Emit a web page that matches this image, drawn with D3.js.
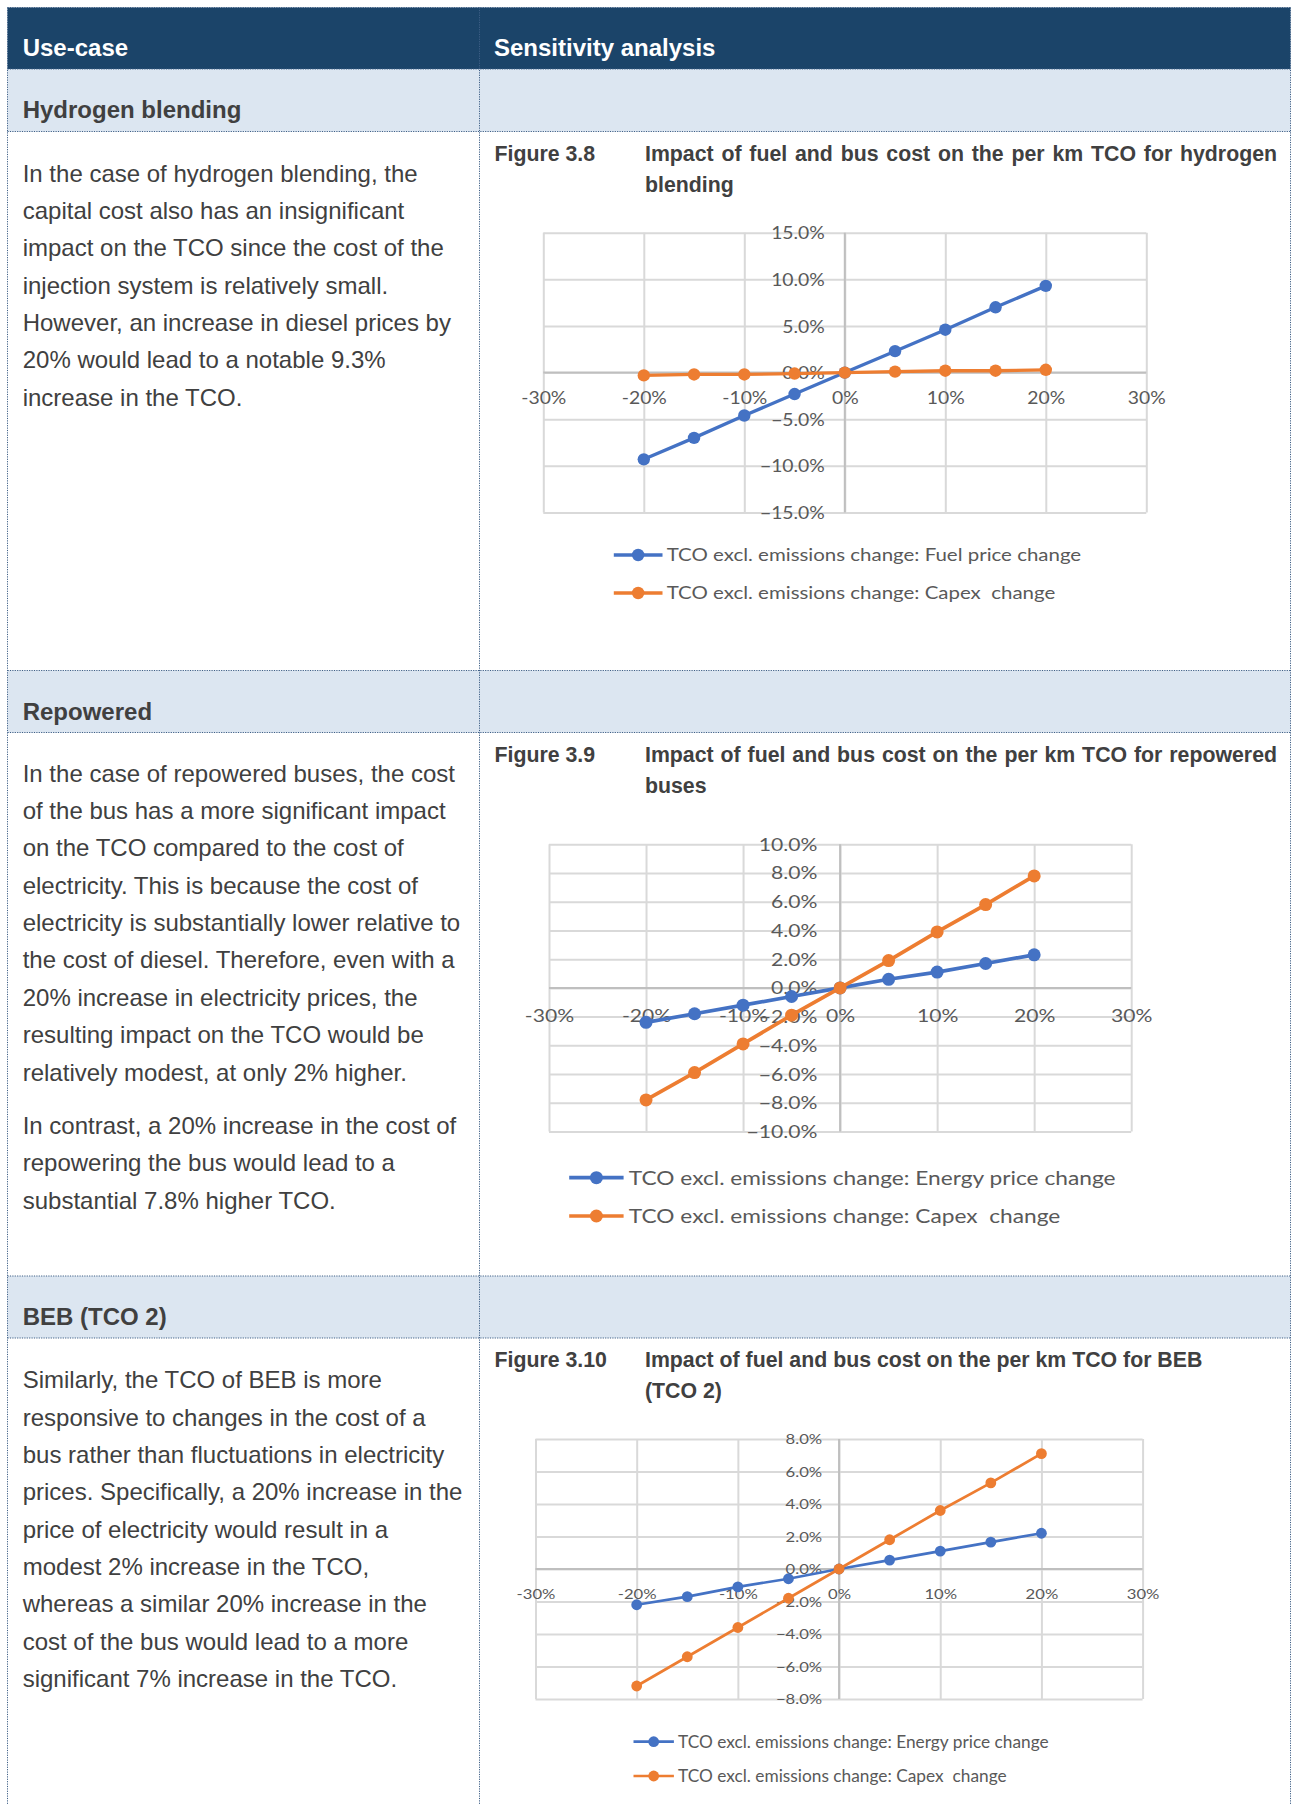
<!DOCTYPE html>
<html>
<head>
<meta charset="utf-8">
<script src="https://cdn.jsdelivr.net/npm/d3@7"></script>
<style>
  html, body { margin: 0; padding: 0; background: #ffffff; }
  svg { display: block; }
</style>
</head>
<body>
<svg id="page" width="1293" height="1805"></svg>
<script>
// ---- Data -------------------------------------------------------------
// Change applied to the input (fuel / energy price or capex), in %
const inputSteps = [-20, -15, -10, -5, 0, 5, 10, 15, 20];
const xTickValues = [-30, -20, -10, 0, 10, 20, 30];

// Hydrogen blending: change in TCO excl. emissions (%)
const h2FuelChange  = [-9.3, -7.0, -4.6, -2.3, 0, 2.3, 4.6, 7.0, 9.3];
const h2CapexChange = [-0.3, -0.2, -0.2, -0.1, 0, 0.1, 0.2, 0.2, 0.3];
const h2YTicks = [-15, -10, -5, 0, 5, 10, 15];

// Repowered buses
const repEnergyChange = [-2.4, -1.8, -1.2, -0.6, 0, 0.6, 1.1, 1.7, 2.3];
const repCapexChange  = [-7.8, -5.9, -3.9, -1.9, 0, 1.9, 3.9, 5.8, 7.8];
const repYTicks = [-10, -8, -6, -4, -2, 0, 2, 4, 6, 8, 10];

// BEB (TCO 2)
const bebEnergyChange = [-2.2, -1.7, -1.1, -0.6, 0, 0.55, 1.1, 1.65, 2.2];
const bebCapexChange  = [-7.2, -5.4, -3.6, -1.8, 0, 1.8, 3.6, 5.3, 7.1];
const bebYTicks = [-8, -6, -4, -2, 0, 2, 4, 6, 8];

// Series labels
const h2SeriesNames  = ["TCO excl. emissions change: Fuel price change", "TCO excl. emissions change: Capex  change"];
const repSeriesNames = ["TCO excl. emissions change: Energy price change", "TCO excl. emissions change: Capex  change"];
const bebSeriesNames = ["TCO excl. emissions change: Energy price change", "TCO excl. emissions change: Capex  change"];

// Table text
const columnHeaders = ["Use-case", "Sensitivity analysis"];
const useCases = ["Hydrogen blending", "Repowered", "BEB (TCO 2)"];
const figureNumbers = ["Figure 3.8", "Figure 3.9", "Figure 3.10"];
const figureTitles = [
  ["Impact of fuel and bus cost on the per km TCO for hydrogen", "blending"],
  ["Impact of fuel and bus cost on the per km TCO for repowered", "buses"],
  ["Impact of fuel and bus cost on the per km TCO for BEB", "(TCO 2)"]
];
const h2Text = [[
  "In the case of hydrogen blending, the",
  "capital cost also has an insignificant",
  "impact on the TCO since the cost of the",
  "injection system is relatively small.",
  "However, an increase in diesel prices by",
  "20% would lead to a notable 9.3%",
  "increase in the TCO."
]];
const repText = [[
  "In the case of repowered buses, the cost",
  "of the bus has a more significant impact",
  "on the TCO compared to the cost of",
  "electricity. This is because the cost of",
  "electricity is substantially lower relative to",
  "the cost of diesel. Therefore, even with a",
  "20% increase in electricity prices, the",
  "resulting impact on the TCO would be",
  "relatively modest, at only 2% higher."
], [
  "In contrast, a 20% increase in the cost of",
  "repowering the bus would lead to a",
  "substantial 7.8% higher TCO."
]];
const bebText = [[
  "Similarly, the TCO of BEB is more",
  "responsive to changes in the cost of a",
  "bus rather than fluctuations in electricity",
  "prices. Specifically, a 20% increase in the",
  "price of electricity would result in a",
  "modest 2% increase in the TCO,",
  "whereas a similar 20% increase in the",
  "cost of the bus would lead to a more",
  "significant 7% increase in the TCO."
]];

// ---- Styling ------------------------------------------------------------
const HEADER_FILL = "#1b4469";
const BAND_FILL = "#dce6f1";
const BORDER = "#3e5f86";
const BODY_TEXT = "#404040";
const CHART_TEXT = "#595959";
const BLUE = "#4472c4";
const ORANGE = "#ed7d31";
const SANS = "'Liberation Sans', Arial, Helvetica, sans-serif";
const CHART_FONT = "Lato, 'Open Sans', sans-serif";

const svg = d3.select("#page");

// ---- Table frame --------------------------------------------------------
const tableLeft = 7.5, tableRight = 1290.5, colSplit = 479.5, tableTop = 7.5, pageBottom = 1805;
const headerBottom = 69;
const bands = [
  { top: 69, bottom: 131.5 },
  { top: 670.5, bottom: 732.5 },
  { top: 1276, bottom: 1338 }
];

svg.append("rect").attr("x", tableLeft).attr("y", tableTop)
  .attr("width", tableRight - tableLeft).attr("height", headerBottom - tableTop)
  .attr("fill", HEADER_FILL);

bands.forEach(b => {
  svg.append("rect").attr("x", tableLeft).attr("y", b.top)
    .attr("width", tableRight - tableLeft).attr("height", b.bottom - b.top)
    .attr("fill", BAND_FILL);
});

const borders = svg.append("g")
  .attr("stroke", BORDER).attr("stroke-width", 1).attr("stroke-dasharray", "1.2 1.2")
  .attr("fill", "none");
[tableTop, headerBottom, ...bands.flatMap(b => [b.top, b.bottom])]
  .filter((v, i, a) => a.indexOf(v) === i)
  .forEach(y => borders.append("line").attr("x1", tableLeft).attr("x2", tableRight).attr("y1", y).attr("y2", y));
[tableLeft, colSplit, tableRight].forEach(x =>
  borders.append("line").attr("x1", x).attr("x2", x).attr("y1", tableTop).attr("y2", pageBottom));

// Column headers
const textLeft = 22.7, rightColText = 494;
svg.append("text").attr("x", textLeft).attr("y", 56)
  .attr("font-family", SANS).attr("font-weight", "bold").attr("font-size", 24)
  .attr("fill", "#ffffff").text(columnHeaders[0]);
svg.append("text").attr("x", rightColText).attr("y", 56)
  .attr("font-family", SANS).attr("font-weight", "bold").attr("font-size", 24)
  .attr("fill", "#ffffff").text(columnHeaders[1]);

// Use-case band labels
bands.forEach((b, i) => {
  svg.append("text").attr("x", textLeft).attr("y", b.top + 49)
    .attr("font-family", SANS).attr("font-weight", "bold").attr("font-size", 24)
    .attr("fill", BODY_TEXT).text(useCases[i]);
});

// Body paragraphs
const LINE_H = 37.35, PARA_GAP = 16.2;
function drawParagraphs(paragraphs, firstBaseline) {
  let y = firstBaseline;
  paragraphs.forEach((lines, pi) => {
    if (pi > 0) y += PARA_GAP;
    lines.forEach(line => {
      svg.append("text").attr("x", textLeft).attr("y", y)
        .attr("font-family", SANS).attr("font-size", 24).attr("fill", BODY_TEXT)
        .text(line);
      y += LINE_H;
    });
  });
}
drawParagraphs(h2Text, bands[0].bottom + 50.2);
drawParagraphs(repText, bands[1].bottom + 49.2);
drawParagraphs(bebText, bands[2].bottom + 50.3);

// Figure captions
const captionNumX = 494.5, captionTextX = 645, captionRight = 1277;
function drawCaption(i, baseline, justify) {
  svg.append("text").attr("x", captionNumX).attr("y", baseline)
    .attr("font-family", SANS).attr("font-weight", "bold").attr("font-size", 21.3)
    .attr("fill", BODY_TEXT).text(figureNumbers[i]);
  const first = svg.append("text").attr("x", captionTextX).attr("y", baseline)
    .attr("font-family", SANS).attr("font-weight", "bold").attr("font-size", 21.3)
    .attr("fill", BODY_TEXT).text(figureTitles[i][0]);
  if (justify) {
    const natural = first.node().getComputedTextLength();
    const gaps = figureTitles[i][0].split(" ").length - 1;
    const extra = (captionRight - captionTextX) - natural;
    if (extra > 0) first.style("word-spacing", (extra / gaps) + "px");
  }
  svg.append("text").attr("x", captionTextX).attr("y", baseline + 31)
    .attr("font-family", SANS).attr("font-weight", "bold").attr("font-size", 21.3)
    .attr("fill", BODY_TEXT).text(figureTitles[i][1]);
}
drawCaption(0, bands[0].bottom + 29.3, true);
drawCaption(1, bands[1].bottom + 29.8, true);
drawCaption(2, bands[2].bottom + 28.7, false);

// ---- Charts -------------------------------------------------------------
// Horizontal stretch so chart text fills the same width it occupies in the
// stretched chart graphic.
function stretchFor(sample, size, target) {
  const t = svg.append("text").attr("font-family", CHART_FONT).attr("font-size", size).text(sample);
  const w = t.node().getComputedTextLength();
  t.remove();
  return target / w;
}

function drawChart(cfg, series, names) {
  const g = svg.append("g");
  const x = d3.scaleLinear().domain([-30, 30]).range([cfg.left, cfg.right]);
  const y = d3.scaleLinear().domain([cfg.yTicks[0], cfg.yTicks[cfg.yTicks.length - 1]]).range([cfg.bottom, cfg.top]);
  const tickSx = stretchFor("-30%", cfg.tickFont, cfg.tickTarget);

  // Gridlines
  const gridY = g.append("g").attr("transform", `translate(${cfg.left},0)`)
    .call(d3.axisLeft(y).tickValues(cfg.yTicks).tickSize(-(cfg.right - cfg.left)).tickFormat(""));
  const gridX = g.append("g").attr("transform", `translate(0,${cfg.bottom})`)
    .call(d3.axisBottom(x).tickValues(xTickValues).tickSize(-(cfg.bottom - cfg.top)).tickFormat(""));
  [gridY, gridX].forEach(a => {
    a.select(".domain").remove();
    a.selectAll("line").attr("stroke", "#d9d9d9").attr("stroke-width", 2);
  });

  // Axes crossing at zero
  g.append("line").attr("x1", cfg.left).attr("x2", cfg.right)
    .attr("y1", y(0)).attr("y2", y(0)).attr("stroke", "#bfbfbf").attr("stroke-width", 2);
  g.append("line").attr("x1", x(0)).attr("x2", x(0))
    .attr("y1", cfg.top).attr("y2", cfg.bottom).attr("stroke", "#bfbfbf").attr("stroke-width", 2);

  // X tick labels along the zero line
  const xAxis = g.append("g").attr("transform", `translate(0,${y(0)})`)
    .call(d3.axisBottom(x).tickValues(xTickValues).tickSize(0).tickFormat(d => d + "%"));
  xAxis.select(".domain").remove();
  xAxis.selectAll("text")
    .attr("y", cfg.xLabelDy).attr("dy", "0.36em")
    .attr("transform", `scale(${tickSx},1)`)
    .attr("font-family", CHART_FONT).attr("font-size", cfg.tickFont).attr("fill", CHART_TEXT);

  // Y tick labels beside the zero line
  const yAxis = g.append("g").attr("transform", `translate(${cfg.yLabelRight},0)`)
    .call(d3.axisLeft(y).tickValues(cfg.yTicks).tickSize(0).tickPadding(0).tickFormat(d => d3.format(".1f")(d) + "%"));
  yAxis.select(".domain").remove();
  yAxis.selectAll("text")
    .attr("x", 0).attr("dy", "0.36em")
    .attr("transform", `scale(${tickSx},1)`)
    .attr("font-family", CHART_FONT).attr("font-size", cfg.tickFont).attr("fill", CHART_TEXT);

  // Series
  const colors = [BLUE, ORANGE];
  series.forEach((vals, si) => {
    const line = d3.line().x((d, i) => x(inputSteps[i])).y(d => y(d));
    g.append("path").datum(vals).attr("d", line)
      .attr("fill", "none").attr("stroke", colors[si]).attr("stroke-width", cfg.lineW)
      .attr("stroke-linejoin", "round");
    g.selectAll(null).data(vals).enter().append("circle")
      .attr("cx", (d, i) => x(inputSteps[i])).attr("cy", d => y(d))
      .attr("r", cfg.markerR).attr("fill", colors[si]);
  });

  // Legend
  const L = cfg.legend;
  const legSx = stretchFor(names[0], L.font, L.target);
  names.forEach((name, si) => {
    const ly = L.ys[si];
    g.append("line").attr("x1", L.x1).attr("x2", L.x2).attr("y1", ly).attr("y2", ly)
      .attr("stroke", colors[si]).attr("stroke-width", cfg.lineW);
    g.append("circle").attr("cx", (L.x1 + L.x2) / 2).attr("cy", ly)
      .attr("r", cfg.markerR).attr("fill", colors[si]);
    g.append("text").attr("transform", `translate(${L.tx},${ly}) scale(${legSx},1)`)
      .attr("dy", "0.36em")
      .attr("font-family", CHART_FONT).attr("font-size", L.font).attr("fill", CHART_TEXT)
      .style("white-space", "pre")
      .text(name);
  });
}

drawChart({
  left: 543.3, right: 1146.3, top: 232.7, bottom: 512.5, yTicks: h2YTicks,
  tickFont: 17, tickTarget: 45.1, xLabelDy: 25.7, yLabelRight: 824.8,
  markerR: 6.2, lineW: 3.3,
  legend: { x1: 613.8, x2: 662.5, ys: [555, 593], tx: 666.7, font: 17, target: 414.7 }
}, [h2FuelChange, h2CapexChange], h2SeriesNames);

drawChart({
  left: 549, right: 1131.2, top: 844.3, bottom: 1131.5, yTicks: repYTicks,
  tickFont: 16.5, tickTarget: 49.3, xLabelDy: 28.3, yLabelRight: 817.5,
  markerR: 6.5, lineW: 3.7,
  legend: { x1: 569.2, x2: 623.6, ys: [1177.7, 1216], tx: 628.8, font: 20, target: 487 }
}, [repEnergyChange, repCapexChange], repSeriesNames);

drawChart({
  left: 535.5, right: 1142.6, top: 1439, bottom: 1699, yTicks: bebYTicks,
  tickFont: 12.8, tickTarget: 38.9, xLabelDy: 25.3, yLabelRight: 822.2,
  markerR: 5.4, lineW: 2.7,
  legend: { x1: 633.5, x2: 673.9, ys: [1741.7, 1776], tx: 678, font: 17, target: 371 }
}, [bebEnergyChange, bebCapexChange], bebSeriesNames);
</script>
</body>
</html>
